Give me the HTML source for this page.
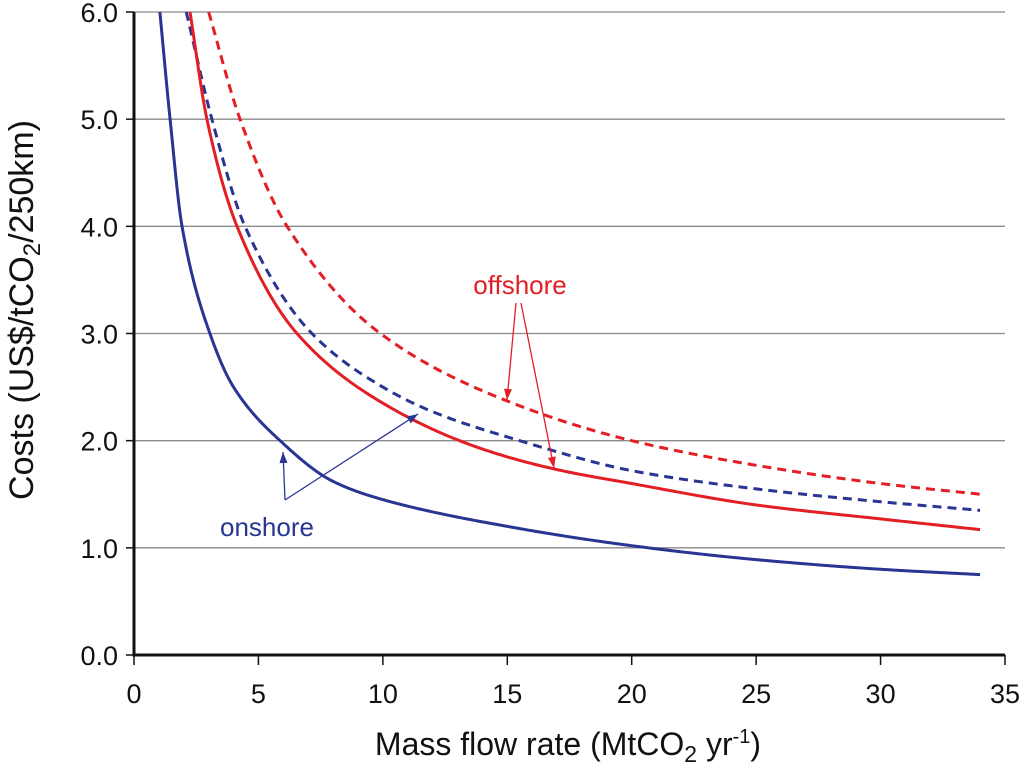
<!DOCTYPE html>
<html><head><meta charset="utf-8"><style>
html,body{margin:0;padding:0;background:#fff;}
svg{display:block;font-family:"Liberation Sans",sans-serif;}
</style></head><body>
<svg id="chart" width="1024" height="771" viewBox="0 0 1024 771" xmlns="http://www.w3.org/2000/svg">
<g id="grid"></g>
<g id="series"></g>
<g id="axes"></g>
<g id="ann"></g>
<text transform="translate(33,310) rotate(-90)" text-anchor="middle" font-size="34" fill="#111">Costs (US$/tCO<tspan font-size="24" dy="7">2</tspan><tspan dy="-7">/250km)</tspan></text>
<text x="568" y="755" text-anchor="middle" font-size="32" fill="#111">Mass flow rate (MtCO<tspan font-size="23" dy="7">2</tspan><tspan dy="-7"> yr</tspan><tspan font-size="20" dy="-12">-1</tspan><tspan dy="12">)</tspan></text>
</svg>
<script>
const xTicks=[0,5,10,15,20,25,30,35];
const yTicks=[0,1,2,3,4,5,6];
const yTickLabels=["0.0","1.0","2.0","3.0","4.0","5.0","6.0"];
const onshoreSolidX=[1.04,1.45,1.93,3.05,4,5.87,8,10,15,20,25,30,34];
const onshoreSolidY=[6.0,5.0,4.0,3.0,2.5,2.0,1.62,1.45,1.2,1.02,0.89,0.8,0.75];
const onshoreDashX=[2.1,3.13,4.46,7.15,10,12,15.5,20,25,30,34];
const onshoreDashY=[6.0,5.0,4.0,3.0,2.5,2.27,2.0,1.72,1.55,1.43,1.35];
const offshoreSolidX=[2.25,2.93,4.14,6.55,10,13.9,17,20,25,30,34];
const offshoreSolidY=[6.0,5.0,4.0,3.0,2.35,1.93,1.73,1.6,1.4,1.27,1.17];
const offshoreDashX=[3.0,4.26,6.15,9.9,15,20,25,30,34];
const offshoreDashY=[6.0,5.0,4.0,3.0,2.37,2.0,1.77,1.6,1.5];
const X=v=>134+v*(1005-134)/35;
const Y=v=>655-v*(655-12)/6;
const NS="http://www.w3.org/2000/svg";
function mk(t,a,p){const e=document.createElementNS(NS,t);for(const k in a)e.setAttribute(k,a[k]);p.appendChild(e);return e;}
const grid=document.getElementById('grid'),axes=document.getElementById('axes'),ser=document.getElementById('series'),ann=document.getElementById('ann');
yTicks.forEach((v,i)=>{
 if(v>0){const g=mk('line',{x1:X(0),x2:1005,y1:Y(v),y2:Y(v),stroke:'#8a8a8a','stroke-width':1.3},grid);
 
 }
 const t=mk('line',{x1:X(0)-8,x2:X(0),y1:Y(v),y2:Y(v),stroke:'#111','stroke-width':1.5},axes);
 
 
 const l=mk('text',{x:X(0)-16,y:Y(v)+10,'text-anchor':'end','font-size':27,fill:'#111'},axes);l.textContent=yTickLabels[i];
 
 
});
xTicks.forEach(v=>{
 const t=mk('line',{x1:X(v),x2:X(v),y1:Y(0),y2:Y(0)+10,stroke:'#111','stroke-width':1.5},axes);
 
 
 const l=mk('text',{x:X(v),y:Y(0)+48,'text-anchor':'middle','font-size':27,fill:'#111'},axes);l.textContent=v;
 
 
});
const ya=mk('line',{x1:X(0),x2:X(0),y1:Y(6),y2:Y(0)+1.5,stroke:'#111','stroke-width':3},axes);


const xa=mk('line',{x1:X(0),x2:1005,y1:Y(0),y2:Y(0),stroke:'#111','stroke-width':3},axes);


function path(xs,ys){
 const n=xs.length,d=[],m=[];
 for(let i=0;i<n-1;i++)d.push((ys[i+1]-ys[i])/(xs[i+1]-xs[i]));
 m[0]=d[0];m[n-1]=d[n-2];
 for(let i=1;i<n-1;i++){
  if(d[i-1]*d[i]<=0)m[i]=0;
  else{const h0=xs[i]-xs[i-1],h1=xs[i+1]-xs[i];const w1=2*h1+h0,w2=h1+2*h0;m[i]=(w1+w2)/(w1/d[i-1]+w2/d[i]);}
 }
 let s='M'+X(xs[0])+','+Y(ys[0]);
 for(let i=0;i<n-1;i++){
  const h=xs[i+1]-xs[i];
  for(let k=1;k<=30;k++){
   const t=k/30,t2=t*t,t3=t2*t;
   const y=(2*t3-3*t2+1)*ys[i]+(t3-2*t2+t)*h*m[i]+(-2*t3+3*t2)*ys[i+1]+(t3-t2)*h*m[i+1];
   s+=' L'+X(xs[i]+t*h).toFixed(2)+','+Y(y).toFixed(2);
  }
 }
 return s;}
function line(xs,ys,c,dash,name){const e=mk('path',{d:path(xs,ys),fill:'none',stroke:c,'stroke-width':3,'stroke-linejoin':'round','stroke-dasharray':dash?'9,6':'none'},ser);
 
 }
const BLUE='#283593',RED='#e31e24';
line(onshoreSolidX,onshoreSolidY,BLUE,false,'onshore-solid-line');
line(onshoreDashX,onshoreDashY,BLUE,true,'onshore-dashed-line');
line(offshoreSolidX,offshoreSolidY,RED,false,'offshore-solid-line');
line(offshoreDashX,offshoreDashY,RED,true,'offshore-dashed-line');
function arrow(x1,y1,x2,y2,c,name){const g=mk('g',{},ann);
 
 
 mk('line',{x1,y1,x2,y2,stroke:c,'stroke-width':1.3},g);
 const a=Math.atan2(y2-y1,x2-x1),L=11,w=4;
 const bx=x2-L*Math.cos(a),by=y2-L*Math.sin(a);
 mk('polygon',{points:`${x2},${y2} ${bx-w*Math.sin(a)},${by+w*Math.cos(a)} ${bx+w*Math.sin(a)},${by-w*Math.cos(a)}`,fill:c},g);}
arrow(516,303,507,400,RED,'offshore-arrow-dashed');
arrow(521,303,554,468,RED,'offshore-arrow-solid');
arrow(285,500,283,452,BLUE,'onshore-arrow-solid');
arrow(285,500,418,414,BLUE,'onshore-arrow-dashed');
const t1=mk('text',{x:520,y:294,'text-anchor':'middle','font-size':26,fill:RED},ann);t1.textContent='offshore';


const t2=mk('text',{x:267,y:536,'text-anchor':'middle','font-size':26,fill:BLUE},ann);t2.textContent='onshore';


</script>
</body></html>
